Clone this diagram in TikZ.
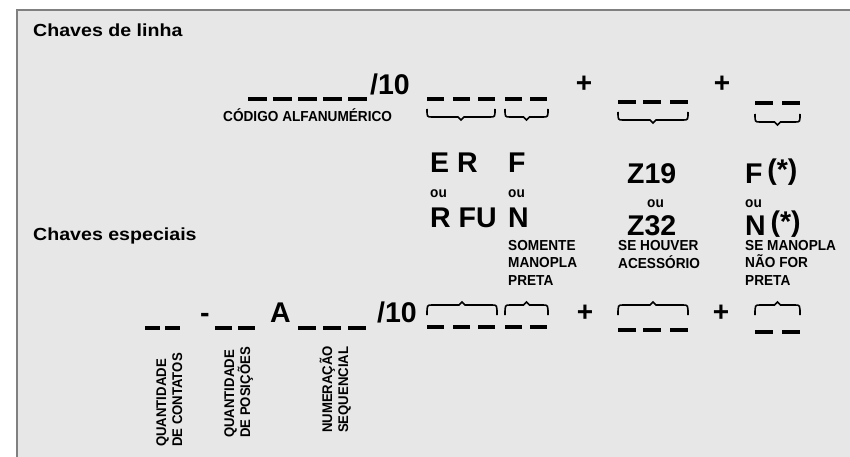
\documentclass[tikz,border=0pt]{standalone}
\usepackage{fontspec}
\setmainfont{Liberation Sans}
\newfontfamily\headfont[FakeStretch=1.12]{Liberation Sans}
\newfontfamily\narrowfont[FakeStretch=0.94]{Liberation Sans}
\definecolor{panel}{RGB}{231,231,231}
\definecolor{frame}{RGB}{128,128,128}
% chave: x1, x2, y das pontas, y da linha, y do bico
\newcommand\chave[5]{\draw[line width=1.6pt] (#1,#3) .. controls (#1,#4) .. ({#1+5},#4) -- ({(#1+#2)/2-3},#4) -- ({(#1+#2)/2},#5) -- ({(#1+#2)/2+3},#4) -- ({#2-5},#4) .. controls (#2,#4) .. (#2,#3);}
\newcommand\asterisco{\,\raisebox{3.5pt}{(*)}}

\begin{document}
\begin{tikzpicture}[x=1pt,y=-1pt,
	head/.style={anchor=base west,inner sep=0pt,font=\headfont\bfseries\fontsize{17.5}{20}\selectfont},
	big/.style={anchor=base west,inner sep=0pt,font=\bfseries\fontsize{28.5}{30}\selectfont},
	note/.style={anchor=base west,inner sep=0pt,align=left,font=\narrowfont\bfseries\fontsize{14.5}{17.5}\selectfont},
	vnote/.style={note,rotate=90,font=\narrowfont\bfseries\fontsize{14}{16}\selectfont},
	plus/.style={inner sep=0pt,font=\bfseries\fontsize{28}{30}\selectfont},
	slot/.style={line width=4pt}]
	\useasboundingbox (0,0) rectangle (850,457);
	\clip (0,0) rectangle (850,457);
	\fill[white] (0,0) rectangle (850,457);
	\draw[line width=2pt,draw=frame,fill=panel] (17,10) rectangle (900,500);
	% titles
	\node[head] (linha) at (33,37) {Chaves de linha};
	\node[head] (especiais) at (33,240) {Chaves especiais};
	% chaves de linha
	\foreach \x in {248,273,298,323,348} \draw[slot] (\x,99) -- ++(19,0);
	\node[big] (barraA) at (370,95) {/10};
	\node[note] (codigo) at (223,122) {CÓDIGO ALFANUMÉRICO};
	\foreach \x in {427,453,478} \draw[slot] (\x,99) -- ++(17,0);
	\foreach \x in {505,530} \draw[slot] (\x,99) -- ++(17,0);
	\foreach \x in {618,643,670} \draw[slot] (\x,102) -- ++(18,0);
	\foreach \x in {755,782} \draw[slot] (\x,103) -- ++(18,0);
	\chave{427}{495}{109}{117}{120}
	\chave{505}{548}{109}{117}{120}
	\chave{618}{688}{112}{120}{123}
	\chave{755}{800}{114}{122}{125}
	\node[plus] (maisA) at (584,84) {+};
	\node[plus] (maisB) at (722,84) {+};
	% opcoes
	\node[big] (er) at (430,172) {E R};
	\node[big] (fa) at (508,172) {F};
	\node[big] (z19) at (627,183) {Z19};
	\node[big] (fb) at (745,183) {F\asterisco};
	\node[note] (ouA) at (430,197) {ou};
	\node[note] (ouB) at (508,197) {ou};
	\node[note] (ouC) at (647,207) {ou};
	\node[note] (ouD) at (745,207) {ou};
	\node[big] (rfu) at (430,227) {R FU};
	\node[big] (na) at (508,227) {N};
	\node[big] (z32) at (627,235) {Z32};
	\node[big] (nb) at (745,235) {N\asterisco};
	\node[note] (somente) at (508,285) {SOMENTE\\MANOPLA\\PRETA};
	\node[note] (houver) at (618,268) {SE HOUVER\\ACESSÓRIO};
	\node[note] (senao) at (745,285) {SE MANOPLA\\NÃO FOR\\PRETA};
	% chaves especiais
	\foreach \x in {145,165} \draw[slot] (\x,328) -- ++(15,0);
	\node[big] (traco) at (200,322) {-};
	\foreach \x in {215,238} \draw[slot] (\x,328) -- ++(17,0);
	\node[big] (letraA) at (270,322) {A};
	\foreach \x in {298,323,348} \draw[slot] (\x,328) -- ++(18,0);
	\node[big] (barraB) at (377,322) {/10};
	\foreach \x in {427,453,478} \draw[slot] (\x,327) -- ++(17,0);
	\foreach \x in {505,530} \draw[slot] (\x,327) -- ++(17,0);
	\foreach \x in {618,643,670} \draw[slot] (\x,330) -- ++(18,0);
	\foreach \x in {755,782} \draw[slot] (\x,332) -- ++(18,0);
	\chave{427}{497}{315}{305}{302}
	\chave{505}{548}{315}{305}{302}
	\chave{618}{688}{315}{305}{302}
	\chave{755}{800}{315}{305}{302}
	\node[plus] (maisC) at (585,313) {+};
	\node[plus] (maisD) at (721,313) {+};
	\node[vnote] (contatos) at (182,447) {QUANTIDADE\\DE CONTATOS};
	\node[vnote] (posicoes) at (250,438) {QUANTIDADE\\DE POSIÇÕES};
	\node[vnote] (sequencia) at (348,433) {NUMERAÇÃO\\SEQUENCIAL};
\end{tikzpicture}
\end{document}
